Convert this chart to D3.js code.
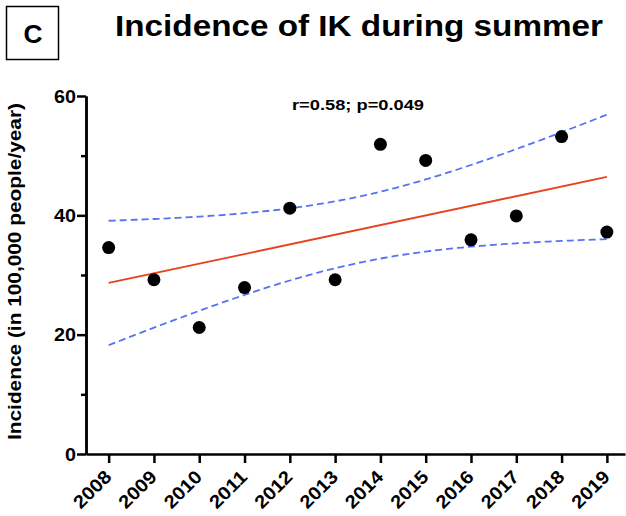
<!DOCTYPE html>
<html>
<head>
<meta charset="utf-8">
<script src="https://d3js.org/d3.v7.min.js"></script>
<style>
  html, body { margin: 0; padding: 0; background: #fff; }
  svg { display: block; font-family: "Liberation Sans", Arial, Helvetica, sans-serif; }
</style>
</head>
<body>
<div id="chart"></div>
<script>
// data
var years = [2008, 2009, 2010, 2011, 2012, 2013, 2014, 2015, 2016, 2017, 2018, 2019];
var incidence = [34.6, 29.2, 21.2, 27.9, 41.2, 29.2, 51.9, 49.2, 35.9, 39.9, 53.2, 37.2];
var yTicks = [0, 20, 40, 60];
var yMinorTicks = [10, 30, 50];
var statsLabel = "r=0.58; p=0.049";
var panelLetter = "C";
var title = "Incidence of IK during summer";
var yLabel = "Incidence (in 100,000 people/year)";

var width = 626, height = 516;
var svg = d3.select("#chart").append("svg")
    .attr("width", width).attr("height", height);

var x = d3.scaleLinear().domain([2007.5, 2019.4]).range([86, 625]);
var y = d3.scaleLinear().domain([0, 60]).range([454, 96]);

// panel letter box
svg.append("rect")
    .attr("x", 6.5).attr("y", 6.5).attr("width", 52).attr("height", 53)
    .attr("fill", "none").attr("stroke", "#000").attr("stroke-width", 1.5);
svg.append("text")
    .attr("x", 33).attr("y", 42.5)
    .attr("text-anchor", "middle")
    .attr("font-size", 26).attr("font-weight", "bold")
    .attr("textLength", 19).attr("lengthAdjust", "spacingAndGlyphs")
    .text(panelLetter);

svg.append("text")
    .attr("x", 359).attr("y", 36)
    .attr("text-anchor", "middle")
    .attr("font-size", 29.5).attr("font-weight", "bold")
    .attr("textLength", 488).attr("lengthAdjust", "spacingAndGlyphs")
    .text(title);

// linear regression + 95% confidence band
var n = years.length;
var mx = d3.mean(years), my = d3.mean(incidence);
var sxx = d3.sum(years, function(d) { return (d - mx) * (d - mx); });
var sxy = d3.sum(years, function(d, i) { return (d - mx) * (incidence[i] - my); });
var slope = sxy / sxx, intercept = my - slope * mx;
var sse = d3.sum(years, function(d, i) {
  var r = incidence[i] - (intercept + slope * d);
  return r * r;
});
var se = Math.sqrt(sse / (n - 2));
var tcrit = 2.228; // t(0.975, df=10)

var xs = d3.range(2008, 2019.001, 0.1);
function band(sign) {
  return xs.map(function(v) {
    var fit = intercept + slope * v;
    var h = tcrit * se * Math.sqrt(1 / n + (v - mx) * (v - mx) / sxx);
    return [v, fit + sign * h];
  });
}
var line = d3.line()
    .x(function(d) { return x(d[0]); })
    .y(function(d) { return y(d[1]); });

[1, -1].forEach(function(s) {
  svg.append("path")
      .datum(band(s))
      .attr("d", line)
      .attr("fill", "none")
      .attr("stroke", "#5573f2")
      .attr("stroke-width", 1.8)
      .attr("stroke-dasharray", "7,4");
});

svg.append("path")
    .datum([[2008, intercept + slope * 2008], [2019, intercept + slope * 2019]])
    .attr("d", line)
    .attr("fill", "none")
    .attr("stroke", "#e8411e")
    .attr("stroke-width", 1.8);

// points
svg.selectAll("circle.pt")
    .data(years)
    .enter().append("circle")
    .attr("class", "pt")
    .attr("cx", function(d) { return x(d); })
    .attr("cy", function(d, i) { return y(incidence[i]); })
    .attr("r", 6.5)
    .attr("fill", "#000");

// axes
var yAxis = svg.append("g")
    .attr("transform", "translate(86,0)")
    .call(d3.axisLeft(y).tickValues(yTicks).tickSize(9).tickSizeOuter(0).tickPadding(1));
svg.append("g")
    .attr("transform", "translate(86,0)")
    .call(d3.axisLeft(y).tickValues(yMinorTicks).tickSize(5).tickSizeOuter(0).tickFormat(""));

var xAxis = svg.append("g")
    .attr("transform", "translate(0,454)")
    .call(d3.axisBottom(x).tickValues(years).tickSize(9).tickSizeOuter(0).tickFormat(d3.format("d")));

svg.selectAll(".domain, .tick line")
    .attr("stroke", "#000").attr("stroke-width", 2.5);

yAxis.selectAll(".tick text")
    .attr("font-size", 19).attr("font-weight", "bold")
    .attr("font-family", "Liberation Sans, Arial, sans-serif")
    .attr("fill", "#000")
    .attr("textLength", function(d) { return d === 0 ? 11 : 22; })
    .attr("lengthAdjust", "spacingAndGlyphs");

xAxis.selectAll(".tick text")
    .attr("font-size", 18.5).attr("font-weight", "bold")
    .attr("font-family", "Liberation Sans, Arial, sans-serif")
    .attr("fill", "#000")
    .attr("text-anchor", "end")
    .attr("dy", 0)
    .attr("y", 0)
    .attr("transform", "translate(3.5,24) rotate(-45)")
    .attr("textLength", 45)
    .attr("lengthAdjust", "spacingAndGlyphs");

svg.append("text")
    .attr("transform", "translate(21,271.5) rotate(-90)")
    .attr("text-anchor", "middle")
    .attr("font-size", 18.5).attr("font-weight", "bold")
    .attr("textLength", 337).attr("lengthAdjust", "spacingAndGlyphs")
    .text(yLabel);

svg.append("text")
    .attr("x", 358).attr("y", 110)
    .attr("text-anchor", "middle")
    .attr("font-size", 15).attr("font-weight", "bold")
    .attr("textLength", 132).attr("lengthAdjust", "spacingAndGlyphs")
    .text(statsLabel);
</script>
</body>
</html>
